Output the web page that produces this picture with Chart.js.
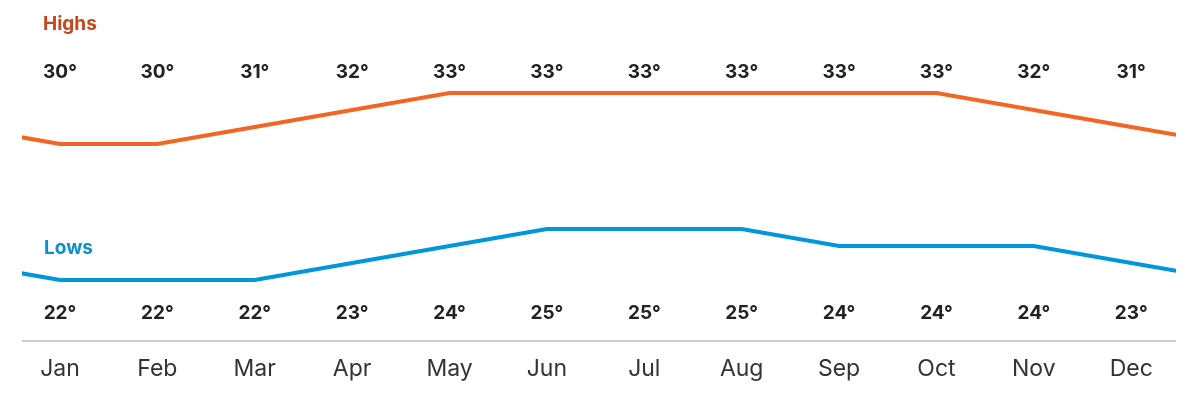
<!DOCTYPE html><html><head><script src="https://cdn.jsdelivr.net/npm/chart.js@4"></script>
<style>body{margin:0;background:#fff}#w{width:1200px;height:400px}</style></head><body><div id="w"><canvas id="c"></canvas></div>
<script>
const months=["Jan","Feb","Mar","Apr","May","Jun","Jul","Aug","Sep","Oct","Nov","Dec"];
const highs=[30,30,31,32,33,33,33,33,33,33,32,31];
const lows=[22,22,22,23,24,25,25,25,24,24,24,23];
const pts=a=>[{x:-1,y:a[11]},...a.map((v,i)=>({x:i,y:v})),{x:12,y:a[0]}];
const F='Inter, "Noto Sans", sans-serif';
const deco={id:'deco',afterDraw(c){const g=c.ctx,xs=c.scales.x,a=c.chartArea;g.save();
g.strokeStyle='#cccccc';g.lineWidth=2;g.beginPath();g.moveTo(a.left,341);g.lineTo(a.right,341);g.stroke();
g.textAlign='center';g.textBaseline='middle';
months.forEach((m,i)=>{const x=xs.getPixelForValue(i);
g.font='23px '+F;g.fillStyle='#333';g.fillText(m,x,369);
g.font='bold 19px '+F;g.fillStyle='#222';g.fillText(highs[i]+'°',x,72);g.fillText(lows[i]+'°',x,313);});
g.textAlign='left';g.font='bold 19px '+F;g.fillStyle='#c7461a';g.fillText('Highs',43,24);
g.fillStyle='#0a8fcf';g.fillText('Lows',44,248);g.restore();}};
new Chart(document.getElementById('c'),{type:'line',data:{datasets:[
{data:pts(highs),borderColor:'#f26522',borderWidth:4,pointRadius:0,tension:0},
{data:pts(lows),borderColor:'#0096db',borderWidth:4,pointRadius:0,tension:0}]},
options:{responsive:true,maintainAspectRatio:false,animation:false,layout:{padding:{left:22,right:24,top:0,bottom:60}},
plugins:{legend:{display:false},tooltip:{enabled:false}},
scales:{x:{type:'linear',min:-0.39,max:11.46,display:false},y:{min:18.47,max:38.47,display:false}}},plugins:[deco]});
</script></body></html>
